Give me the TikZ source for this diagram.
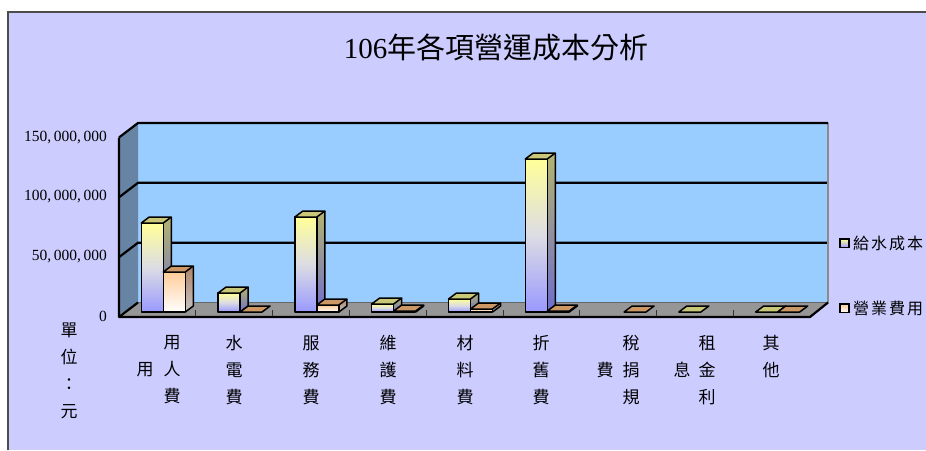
\documentclass[tikz,border=0pt]{standalone}
\usepackage{fontspec}
\setmainfont{Liberation Serif}
\newfontfamily\cjk{Noto Sans CJK TC}
\definecolor{bgl}{HTML}{CCCCFF}
\definecolor{wallb}{HTML}{99CCFF}
\definecolor{walll}{HTML}{6884A4}
\definecolor{floorg}{HTML}{969696}
\definecolor{yel}{HTML}{FFFF99}
\definecolor{vio}{HTML}{9999FF}
\definecolor{mid}{HTML}{DCDCE4}
\definecolor{oliv}{HTML}{B4B470}
\definecolor{olivtop}{HTML}{C8C878}
\definecolor{sideblue}{HTML}{6E6ECC}
\definecolor{peach}{HTML}{FFCC99}
\definecolor{tan}{HTML}{CC9966}
\definecolor{sidetan}{HTML}{B08468}
\definecolor{sidegray}{HTML}{C4C4C4}
\tikzset{
  grid/.style={line width=2.2pt, draw=black},
  barline/.style={line width=1.5pt, draw=black, line join=round},
  frontA/.style={top color=yel, bottom color=vio, middle color=mid},
  sideA/.style={top color=oliv, bottom color=sideblue},
  frontB/.style={top color=peach, bottom color=white},
  sideB/.style={top color=sidetan, bottom color=sidegray},
  catlabel/.style={font=\cjk\fontsize{17}{27}\selectfont, align=center, inner sep=0pt},
  ylab/.style={font=\fontsize{15.5}{15.5}\selectfont, anchor=east, inner sep=0pt},
  legtext/.style={font=\cjk\fontsize{16}{16}\selectfont, anchor=west, inner sep=0pt},
}
\newcommand{\genbar}[5]{%
  \pgfmathsetmacro{\xa}{#1}\pgfmathsetmacro{\xb}{#1+22}%
  \pgfmathsetmacro{\xc}{#1+30}\pgfmathsetmacro{\xd}{#1+8}%
  \pgfmathsetmacro{\yt}{312-#2}\pgfmathsetmacro{\ytb}{306-#2}%
  \ifdim #2pt>0pt
    \shade[#3] (\xa,312) rectangle (\xb,\yt);
    \shade[#4] (\xb,312) -- (\xc,306) -- (\xc,\ytb) -- (\xb,\yt) -- cycle;
    \draw[barline] (\xa,312) rectangle (\xb,\yt);
    \draw[barline] (\xb,312) -- (\xc,306) -- (\xc,\ytb);
  \fi
  \filldraw[barline, fill=#5] (\xa,\yt) -- (\xd,\ytb) -- (\xc,\ytb) -- (\xb,\yt) -- cycle;
}
\newcommand{\barone}[2]{\genbar{#1}{#2}{frontA}{sideA}{olivtop}}
\newcommand{\bartwo}[2]{\genbar{#1}{#2}{frontB}{sideB}{tan}}
\begin{document}
\begin{tikzpicture}[x=1pt,y=-1pt]
\useasboundingbox (0,0) rectangle (926,450);
\fill[bgl] (8,12) rectangle (926,450);
\draw[line width=1.3pt, draw=black!70] (8,450) -- (8,12) -- (926,12);

% walls and floor
\fill[wallb] (138,123) rectangle (828,302.5);
\fill[walll] (119,137.5) -- (138,123) -- (138,302.5) -- (119,317) -- cycle;
\fill[floorg] (119,317) -- (138,302.5) -- (828,302.5) -- (810,317) -- cycle;
\draw[line width=0.8pt, draw=black!60] (138,302.5) -- (828,302.5);
\foreach \gy in {182.8,242.7} {
  \draw[grid] (119,\gy+14.5) -- (138,\gy) -- (828,\gy);
}
\draw[line width=2.5pt, draw=black!45] (828,123) -- (828,302.5);
\draw[grid] (119,137.5) -- (138,123) -- (828,123);
\draw[grid] (138,302.5) -- (119,317);
\draw[grid, line join=round] (119,137.5) -- (119,317) -- (810,317) -- (828,302.5);
\foreach \k in {1,...,8} {
  \draw[line width=0.9pt, draw=black!80] (119+76.8*\k,310) -- (119+76.8*\k,316);
}

% bars
\barone{141.3}{89}   \bartwo{163.3}{40}
\barone{218.1}{19}   \bartwo{240.1}{0}
\barone{294.9}{95}   \bartwo{316.9}{7}
\barone{371.7}{8}    \bartwo{393.7}{1}
\barone{448.5}{13}   \bartwo{470.5}{3}
\barone{525.3}{153}  \bartwo{547.3}{1}
\bartwo{624.1}{0}
\barone{678.9}{0}
\barone{755.7}{0}    \bartwo{777.7}{0}

% title
\node[font=\fontsize{29}{29}\selectfont, inner sep=0pt] (title) at (496,47) {106{\cjk 年各項營運成本分析}};

% y labels
\node[ylab] (y150) at (107,138) {150,\,000,\,000};
\node[ylab] (y100) at (107,197) {100,\,000,\,000};
\node[ylab] (y50)  at (107,257) {50,\,000,\,000};
\node[ylab] (y0)   at (107,316) {0};

% unit label
\node[catlabel] (unit) at (69,371) {單\\位\\：\\元};

% category labels
\node[catlabel] (c0a) at (172,370) {用\\人\\費};
\node[catlabel] (c0b) at (145,370) {用};
\node[catlabel] (c1) at (234,370) {水\\電\\費};
\node[catlabel] (c2) at (311,370) {服\\務\\費};
\node[catlabel] (c3) at (388,370) {維\\護\\費};
\node[catlabel] (c4) at (465,370) {材\\料\\費};
\node[catlabel] (c5) at (541,370) {折\\舊\\費};
\node[catlabel] (c6a) at (631,370) {稅\\捐\\規};
\node[catlabel] (c6b) at (605,370) {費};
\node[catlabel] (c7a) at (707,370) {租\\金\\利};
\node[catlabel] (c7b) at (682,370) {息};
\node[catlabel] (c8) at (771,356.5) {其\\他};

% legend
\shade[top color=yel, bottom color=vio] (840,239) rectangle (849,247.5);
\draw[line width=1.5pt] (840,239) rectangle (849,247.5);
\node[legtext] (l1) at (853,243) {給\kern2pt 水\kern2pt 成\kern2pt 本};
\shade[top color=peach, bottom color=white] (840,304) rectangle (849,312.5);
\draw[line width=1.5pt] (840,304) rectangle (849,312.5);
\node[legtext] (l2) at (853,308) {營\kern2pt 業\kern2pt 費\kern2pt 用};
\end{tikzpicture}
\end{document}
